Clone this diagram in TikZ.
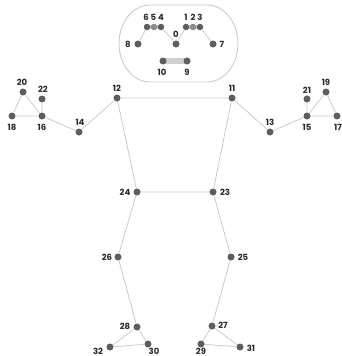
\documentclass[tikz,border=0pt]{standalone}
\usepackage{fontspec}
\setmainfont{Poppins}
\begin{document}
\begin{tikzpicture}[x=1pt,y=-1pt,
  jt/.style={circle,fill=jointgray,inner sep=0pt,minimum size=7pt},
  hj/.style={jt,minimum size=6.5pt},
  bone/.style={draw=bonegray,line width=0.8pt},
  capsule/.style={draw=capgray,line width=4.5pt,line cap=round},
  lbl/.style={font=\fontsize{8.5}{8.5}\selectfont\bfseries,text=labgray,inner sep=0pt}]
\definecolor{jointgray}{HTML}{5E5E5E}
\definecolor{bonegray}{HTML}{CBCBCB}
\definecolor{capgray}{HTML}{D0D0D0}
\definecolor{labgray}{HTML}{2A2A2A}
\useasboundingbox (0,0) rectangle (341,356);
\draw[draw=bonegray,line width=0.9pt] (150,5) -- (207,5)
  arc[start angle=-90,end angle=90,x radius=31,y radius=38.5]
  -- (150,82) arc[start angle=90,end angle=270,x radius=31,y radius=38.5] -- cycle;
% head joints
\coordinate (c6) at (147,27); \coordinate (c4) at (161,27);
\coordinate (c1) at (186,27); \coordinate (c3) at (200,27);
\coordinate (c10) at (163,61); \coordinate (c9) at (187,61);
\draw[capsule] (c6) -- (c4);
\draw[capsule] (c1) -- (c3);
\draw[capsule,line width=6pt] (c10) -- (c9);
\node[hj] (n6) at (147,27) {};
\node[hj,fill=capgray!40!jointgray] (n5) at (154,27) {};
\node[hj] (n4) at (161,27) {};
\node[hj] (n1) at (186,27) {};
\node[hj,fill=capgray!40!jointgray] (n2) at (193,27) {};
\node[hj] (n3) at (200,27) {};
\node[jt] (n0) at (176,44) {};
\node[jt] (n8) at (138,44) {};
\node[jt] (n7) at (213,44) {};
\node[jt] (n10) at (163,61) {};
\node[jt] (n9) at (187,61) {};
\draw[bone] (n8) -- (n6) (n4) -- (n0) -- (n1) (n3) -- (n7);
% body joints
\node[jt] (n20) at (23,92) {};
\node[jt] (n22) at (42,99) {};
\node[jt] (n18) at (12,116) {};
\node[jt] (n16) at (42,116) {};
\node[jt] (n14) at (79,132) {};
\node[jt] (n12) at (117,98) {};
\node[jt] (n11) at (232,98) {};
\node[jt] (n13) at (270,132) {};
\node[jt] (n21) at (307,99) {};
\node[jt] (n19) at (326,92) {};
\node[jt] (n15) at (307,116) {};
\node[jt] (n17) at (337,116) {};
\node[jt] (n24) at (137,192) {};
\node[jt] (n23) at (213,192) {};
\node[jt] (n26) at (118,257) {};
\node[jt] (n25) at (231,257) {};
\node[jt] (n28) at (137,327) {};
\node[jt] (n32) at (110,347) {};
\node[jt] (n30) at (148,344) {};
\node[jt] (n27) at (212,326) {};
\node[jt] (n29) at (201,344) {};
\node[jt] (n31) at (240,347) {};
\draw[bone] (n20) -- (n18) -- (n16) -- (n20) (n22) -- (n16) -- (n14) -- (n12)
  -- (n11) -- (n13) -- (n15) -- (n21) (n15) -- (n19) -- (n17) -- (n15)
  (n12) -- (n24) -- (n23) -- (n11)
  (n24) -- (n26) -- (n28) -- (n32) -- (n30) -- (n28)
  (n23) -- (n25) -- (n27) -- (n29) -- (n31) -- (n27);
% labels
\node[lbl] (l6) at (146,17) {6};
\node[lbl] (l5) at (153.5,17) {5};
\node[lbl] (l4) at (161,17) {4};
\node[lbl] (l1) at (186,17) {1};
\node[lbl] (l2) at (193,17) {2};
\node[lbl] (l3) at (200,17) {3};
\node[lbl] (l0) at (176,34) {0};
\node[lbl] (l8) at (128,44) {8};
\node[lbl] (l7) at (222,44) {7};
\node[lbl] (l10) at (162,72) {10};
\node[lbl] (l9) at (187,72) {9};
\node[lbl] (l20) at (22,82) {20};
\node[lbl] (l22) at (43,89) {22};
\node[lbl] (l18) at (12,127) {18};
\node[lbl] (l16) at (42,127) {16};
\node[lbl] (l14) at (80,122) {14};
\node[lbl] (l12) at (117,88) {12};
\node[lbl] (l11) at (232,88) {11};
\node[lbl] (l13) at (270,122) {13};
\node[lbl] (l21) at (307,90) {21};
\node[lbl] (l19) at (326,82) {19};
\node[lbl] (l15) at (307,127) {15};
\node[lbl] (l17) at (338,127) {17};
\node[lbl] (l24) at (125,192) {24};
\node[lbl] (l23) at (225,192) {23};
\node[lbl] (l26) at (107,257) {26};
\node[lbl] (l25) at (243,257) {25};
\node[lbl] (l28) at (125,326) {28};
\node[lbl] (l32) at (98,351) {32};
\node[lbl] (l30) at (154,351) {30};
\node[lbl] (l27) at (223,325) {27};
\node[lbl] (l29) at (201,351) {29};
\node[lbl] (l31) at (251,348) {31};
\end{tikzpicture}
\end{document}
